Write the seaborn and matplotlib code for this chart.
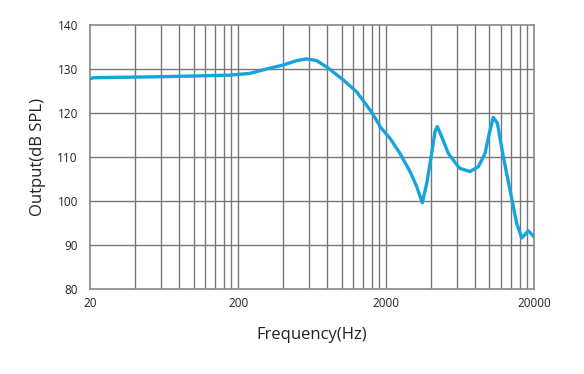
import numpy as np
import pandas as pd
import matplotlib
matplotlib.use("Agg")
import matplotlib.pyplot as plt
import seaborn as sns

# frequency response
freq_hz = [20, 21, 30, 50, 100, 176, 240, 328, 404, 497, 581, 679, 813,
           1027, 1265, 1557, 1771, 1819, 2125, 2483, 2901, 3220, 3515, 3765,
           4067, 4281, 4438, 4753, 5269, 6156, 6323, 7385, 8404, 9328, 9973,
           10610, 11300, 12400, 13760, 15280, 16520, 18300, 19600, 20000]
output_db = [127.8, 128.0, 128.1, 128.2, 128.4, 128.6, 129.0, 130.2, 130.9,
             131.9, 132.3, 131.9, 130.2, 127.5, 124.8, 120.7, 117.7, 116.9,
             114.25, 110.8, 106.7, 103.3, 99.6, 104.0, 110.8, 115.75, 116.9,
             114.6, 110.8, 107.8, 107.4, 106.7, 107.8, 110.8, 115.4, 119.0,
             117.7, 110.1, 102.5, 94.9, 91.6, 93.2, 92.2, 91.8]

y_ticks = [80, 90, 100, 110, 120, 130, 140]
x_ticks = [20, 200, 2000, 20000]
x_grid = [40, 60, 80, 100, 120, 140, 160, 180, 200,
          400, 600, 800, 1000, 1200, 1400, 1600, 1800, 2000,
          4000, 6000, 8000, 10000, 12000, 14000, 16000, 18000]

df = pd.DataFrame({"freq": freq_hz, "db": output_db})

sns.set_style("white")
plt.rcParams["font.family"] = ["Open Sans", "DejaVu Sans"]

fig = plt.figure(figsize=(5.84, 3.74), dpi=100)
ax = fig.add_axes([0.1546, 0.2273, 0.7598, 0.7059])

for g in x_grid:
    ax.axvline(g, color="#777777", lw=1.0, zorder=1)
for t in y_ticks[1:-1]:
    ax.axhline(t, color="#777777", lw=1.0, zorder=1)

sns.lineplot(data=df, x="freq", y="db", ax=ax, color="#17a4dc", lw=2.4,
             sort=False, zorder=3)
ax.lines[-1].set_solid_joinstyle("round")

ax.set_xscale("log")
ax.set_xlim(20, 20000)
ax.set_ylim(80, 140)
ax.set_xticks(x_ticks)
ax.set_xticklabels([str(x) for x in x_ticks])
ax.xaxis.set_minor_locator(matplotlib.ticker.NullLocator())
ax.set_yticks(y_ticks)
ax.tick_params(length=0, labelsize=8.5, colors="#222222")
ax.tick_params(axis="y", pad=9)
ax.tick_params(axis="x", pad=6)
for s in ax.spines.values():
    s.set_color("#888888")
    s.set_linewidth(1.2)

ax.set_xlabel("Frequency(Hz)", fontsize=12, color="#222222", labelpad=12)
ax.set_ylabel("Output(dB SPL)", fontsize=12, color="#222222", labelpad=8)

fig.savefig("out.png", dpi=100)
